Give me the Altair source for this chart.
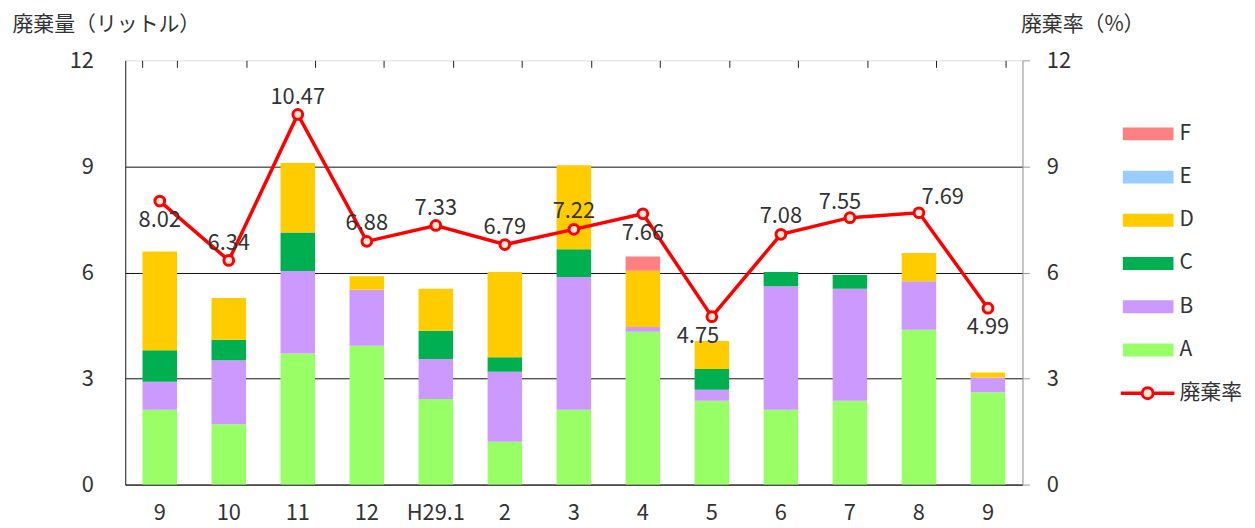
import json
import altair as alt
import pandas as pd

# ---- data ----
months = ["9", "10", "11", "12", "H29.1", "2", "3", "4", "5", "6", "7", "8", "9"]
series = ["A", "B", "C", "D", "E", "F"]
val_A = [2.12, 1.71, 3.71, 3.93, 2.42, 1.21, 2.12, 4.32, 2.37, 2.12, 2.37, 4.38, 2.61]
val_B = [0.79, 1.81, 2.33, 1.58, 1.13, 1.98, 3.75, 0.14, 0.31, 3.49, 3.17, 1.37, 0.42]
val_C = [0.89, 0.58, 1.09, 0.00, 0.80, 0.41, 0.79, 0.00, 0.59, 0.40, 0.39, 0.00, 0.00]
val_D = [2.79, 1.18, 1.97, 0.38, 1.19, 2.41, 2.37, 1.59, 0.79, 0.00, 0.00, 0.80, 0.14]
val_E = [0.00, 0.00, 0.00, 0.00, 0.00, 0.00, 0.00, 0.00, 0.00, 0.00, 0.00, 0.00, 0.00]
val_F = [0.00, 0.00, 0.00, 0.00, 0.00, 0.00, 0.00, 0.40, 0.00, 0.00, 0.00, 0.00, 0.00]
rate = [8.02, 6.34, 10.47, 6.88, 7.33, 6.79, 7.22, 7.66, 4.75, 7.08, 7.55, 7.69, 4.99]
label_place = ["below", "above", "above", "above", "above", "above", "above",
               "below", "below_left", "above", "above_left", "above_right", "below"]
legend_labels = ["F", "E", "D", "C", "B", "A", "廃棄率"]

colors = ["#99ff66", "#cc99ff", "#00b050", "#ffcc00", "#99ccff", "#ff8080"]
RED = "#ff0000"
FONT = "Noto Sans CJK JP"
TXT = "#333333"
NUM_FS = 22
JP_FS = 21

keys = [str(i) for i in range(len(months))]
vals = {"A": val_A, "B": val_B, "C": val_C, "D": val_D, "E": val_E, "F": val_F}

bar_rows = []
for s_i, s in enumerate(series):
    for i, k in enumerate(keys):
        bar_rows.append({"k": k, "series": s, "ord": s_i, "v": vals[s][i]})
bars_df = pd.DataFrame(bar_rows)

rate_df = pd.DataFrame({"k": keys, "rate": rate, "place": label_place,
                        "lbl": [f"{r:.2f}" for r in rate]})
leg_df = pd.DataFrame({"label": legend_labels})

label_expr = json.dumps(months) + "[toNumber(datum.value)]"

x_scale = alt.Scale(paddingInner=0.5, paddingOuter=0.25)
x_main = alt.X("k:N", sort=keys, scale=x_scale,
               axis=alt.Axis(title=None, labelExpr=label_expr, labelAngle=0,
                             ticks=False, tickSize=0, domainColor="#333333",
                             labelFontSize=NUM_FS, labelPadding=28,
                             labelBaseline="middle", labelColor=TXT,
                             labelOverlap=False, labelFont=FONT))
x_tick = alt.X("k:N", sort=keys, scale=x_scale,
               axis=alt.Axis(title=None, labels=False, domain=False, ticks=True,
                             tickSize=7, tickColor="#222222", tickBand="extent",
                             offset=-7, grid=False))

color_scale = alt.Scale(domain=series, range=colors)

bars = alt.Chart(bars_df).mark_bar().encode(
    x=x_main,
    y=alt.Y("v:Q", stack="zero", scale=alt.Scale(domain=[0, 12], nice=False),
            axis=alt.Axis(values=[0, 3, 6, 9, 12], title="廃棄量（リットル）",
                          titleAngle=0, titleAlign="left", titleBaseline="middle",
                          titleX=-114, titleY=-36, titleFontSize=JP_FS,
                          titleFontWeight="normal", titleFont=FONT, titleColor=TXT,
                          labelFontSize=NUM_FS, labelPadding=32, labelColor=TXT,
                          labelFont=FONT, ticks=False, tickSize=0,
                          domainColor="#222222", grid=True,
                          gridColor={"condition": {"test": "datum.value >= 12",
                                                   "value": "transparent"},
                                     "value": "#111111"})),
    color=alt.Color("series:N", scale=color_scale, legend=None),
    order=alt.Order("ord:Q", sort="ascending"),
)

y_rate = alt.Y("rate:Q", scale=alt.Scale(domain=[0, 12], nice=False),
               axis=alt.Axis(orient="right", values=[0, 3, 6, 9, 12],
                             title="廃棄率（%）", titleAngle=0, titleAlign="left",
                             titleBaseline="middle", titleX=-2, titleY=-36,
                             titleFontSize=JP_FS, titleFontWeight="normal",
                             titleFont=FONT, titleColor=TXT,
                             labelFontSize=NUM_FS, labelPadding=17, labelColor=TXT,
                             labelFont=FONT, grid=False, domainColor="#999999",
                             tickColor="#999999", tickSize=7))

base_rate = alt.Chart(rate_df)
line = base_rate.mark_line(color=RED, strokeWidth=3.5).encode(x=x_tick, y=y_rate)
pts = base_rate.mark_point(shape="circle", filled=True, fill="#fde9d9", stroke=RED,
                           strokeWidth=3, size=95, opacity=1).encode(x=x_tick, y=y_rate)

offsets = {"above": (0, -18), "below": (0, 19), "below_left": (-14, 19),
           "above_left": (-10, -16), "above_right": (24, -16)}
text_layers = []
for place, (dx, dy) in offsets.items():
    text_layers.append(
        base_rate.transform_filter(alt.datum.place == place)
        .mark_text(fontSize=NUM_FS, font=FONT, color=TXT, dx=dx, dy=dy, baseline="middle")
        .encode(x=x_tick, y=y_rate, text="lbl:N")
    )

rate_group = alt.layer(line, pts, *text_layers)

# ---- legend drawn with marks ----
y_leg = alt.Y("label:N", sort=legend_labels,
              scale=alt.Scale(type="point", domain=legend_labels, range=[74, 335], padding=0),
              axis=None)
leg_base = alt.Chart(leg_df)
leg_sw = leg_base.transform_filter(alt.datum.label != "廃棄率").mark_rule(
    strokeWidth=13, strokeCap="butt").encode(
    x=alt.value(1004), x2=alt.value(1055), y=y_leg,
    color=alt.Color("label:N", scale=color_scale, legend=None))
leg_line = leg_base.transform_filter(alt.datum.label == "廃棄率").mark_rule(
    strokeWidth=3.5, color=RED).encode(x=alt.value(1002), x2=alt.value(1056), y=y_leg)
leg_pt = leg_base.transform_filter(alt.datum.label == "廃棄率").mark_point(
    shape="circle", filled=True, fill="#fde9d9", stroke=RED, strokeWidth=3,
    size=120, opacity=1).encode(x=alt.value(1029), y=y_leg)
leg_txt = leg_base.mark_text(align="left", baseline="middle", fontSize=JP_FS, font=FONT,
                             color=TXT).encode(x=alt.value(1061), y=y_leg, text="label:N")
legend_group = alt.layer(leg_sw, leg_line, leg_pt, leg_txt)

chart = (
    alt.layer(bars, rate_group, legend_group)
    .resolve_scale(y="independent")
    .resolve_axis(x="independent", y="independent")
    .properties(width=903, height=427, padding={"left": 4, "top": 4, "right": 5, "bottom": 5})
    .configure_view(stroke="#999999")
    .configure(font=FONT)
)

chart.save("out.html", embed_options={"renderer": "svg", "actions": False})
